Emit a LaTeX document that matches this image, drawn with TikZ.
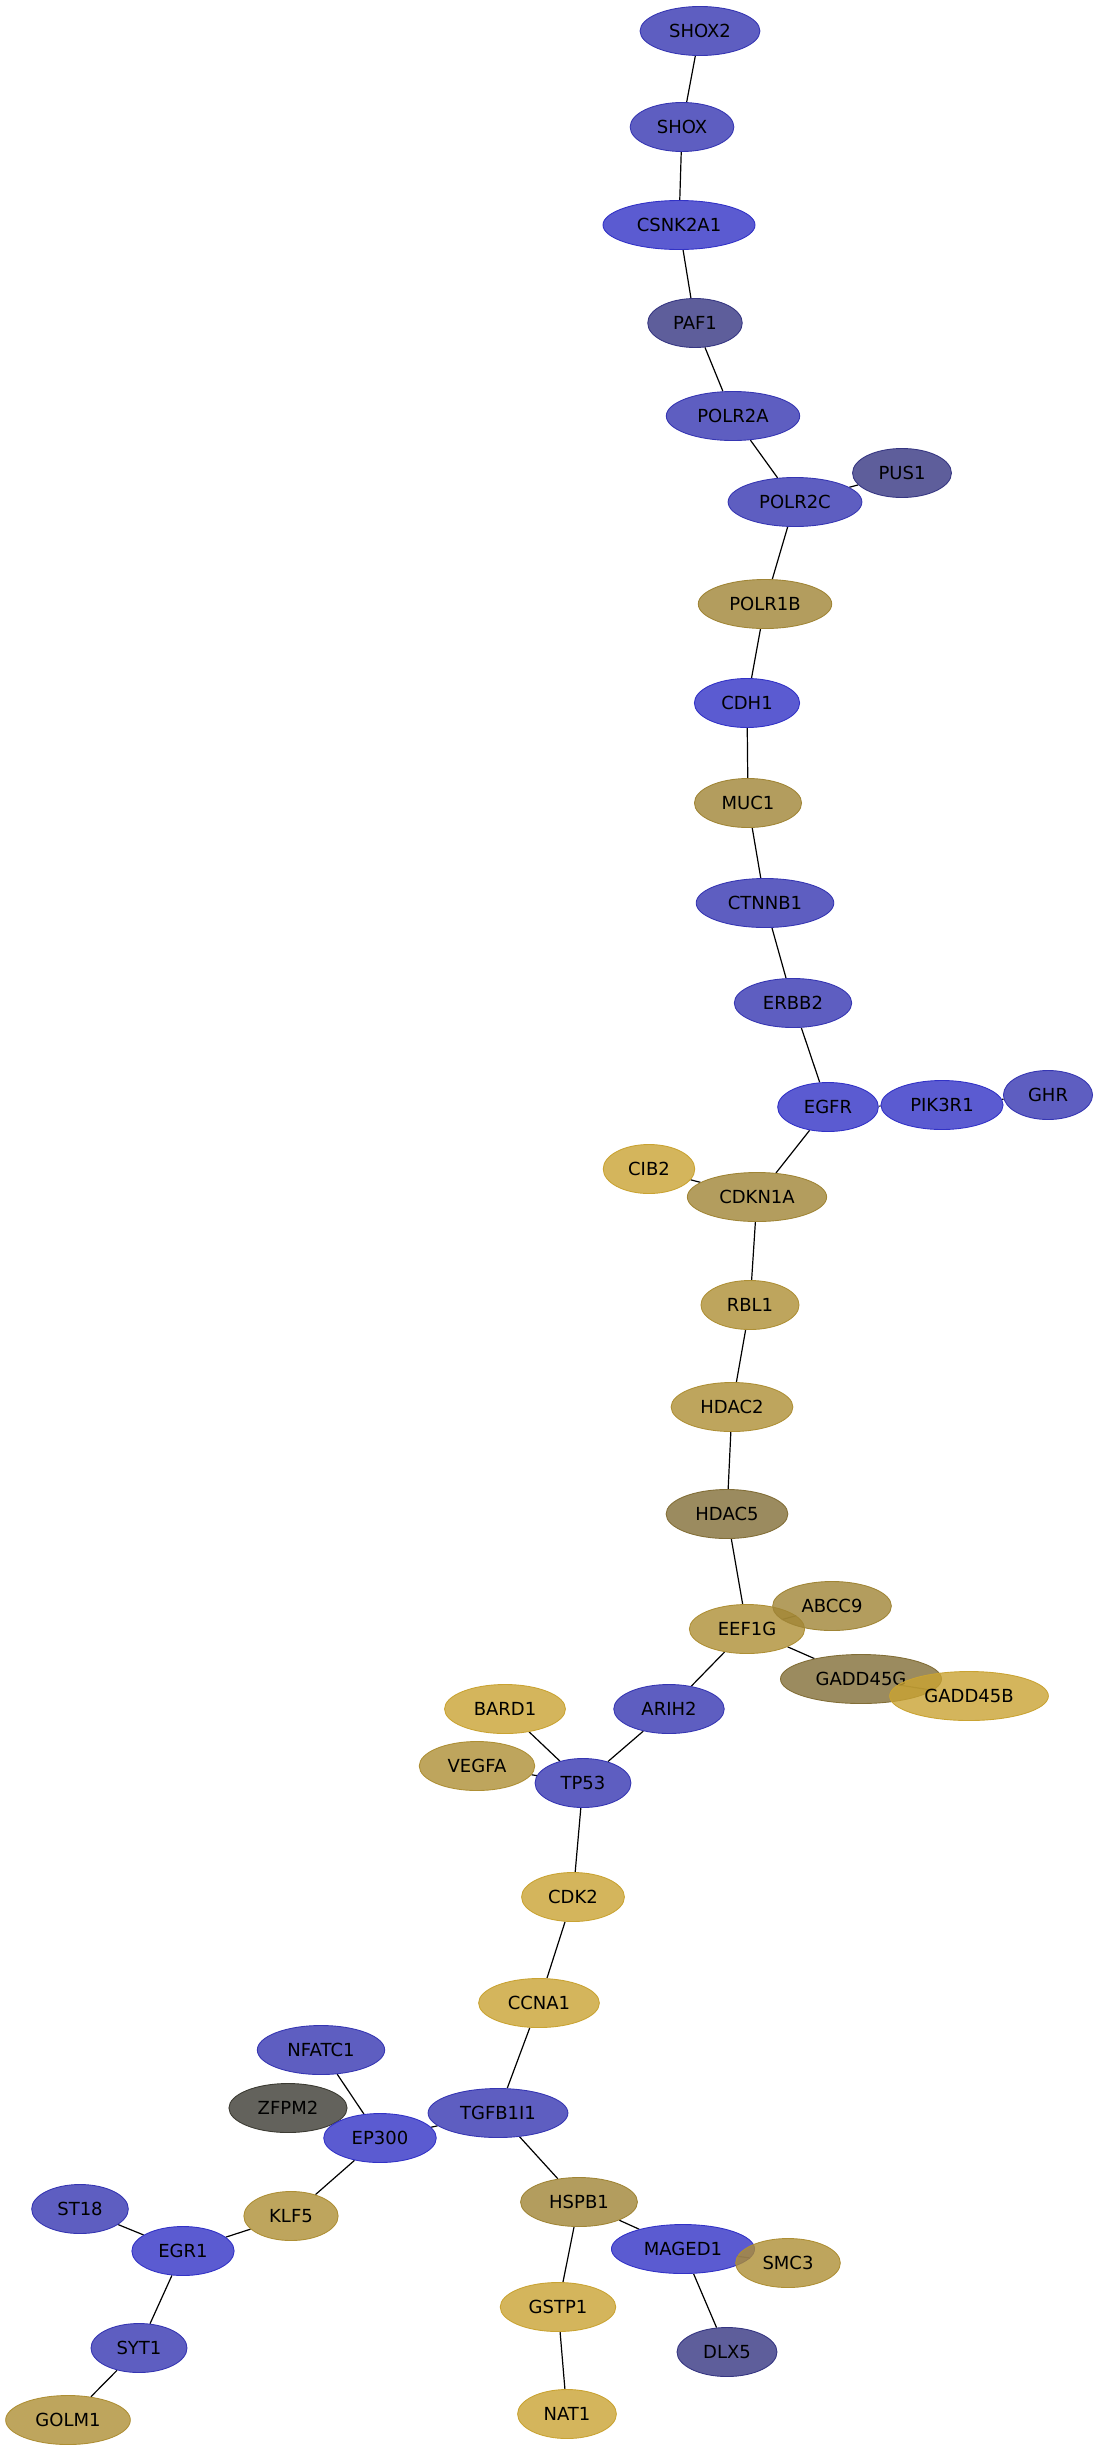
\documentclass[tikz,border=0pt]{standalone}
\usepackage{fontspec}
\setmainfont{DejaVu Sans}
\usetikzlibrary{shapes.geometric,backgrounds}

\definecolor{blueA}{RGB}{50,50,198}
\definecolor{blueB}{RGB}{54,54,178}
\definecolor{slate}{RGB}{54,54,130}
\definecolor{greyish}{RGB}{60,59,51}
\definecolor{gold}{RGB}{201,163,51}
\definecolor{tanA}{RGB}{160,133,54}
\definecolor{tanB}{RGB}{174,143,53}
\definecolor{olive}{RGB}{130,110,55}

\begin{document}
\begin{tikzpicture}[x=1pt, y=-1pt, every node/.style={font=\fontsize{18}{20}\selectfont}, gene/.style={ellipse,draw,line width=0.9pt,fill opacity=0.8,text opacity=1,inner xsep=11.5pt,inner ysep=2pt,minimum height=49pt}, gb/.style={gene,fill=blueA,draw=blueA}, gm/.style={gene,fill=blueB,draw=blueB}, gs/.style={gene,fill=slate,draw=slate}, gk/.style={gene,fill=greyish,draw=greyish}, gy/.style={gene,fill=gold,draw=gold}, gt/.style={gene,fill=tanA,draw=tanA}, gl/.style={gene,fill=tanB,draw=tanB}, go/.style={gene,fill=olive,draw=olive}, edge/.style={line width=1.2pt,black}]
\useasboundingbox (0,0) rectangle (1099,2452);
\node[gm] (shox2) at (700,31) {SHOX2};
\node[gm] (shox) at (682,127) {SHOX};
\node[gb] (csnk2a1) at (679,225) {CSNK2A1};
\node[gs] (paf1) at (695,323) {PAF1};
\node[gm] (polr2a) at (733,416) {POLR2A};
\node[gs] (pus1) at (902,473) {PUS1};
\node[gm] (polr2c) at (795,502) {POLR2C};
\node[gt] (polr1b) at (765,604) {POLR1B};
\node[gb] (cdh1) at (747,703) {CDH1};
\node[gt] (muc1) at (748,803) {MUC1};
\node[gm] (ctnnb1) at (765,903) {CTNNB1};
\node[gm] (erbb2) at (793,1003) {ERBB2};
\node[gb] (egfr) at (828,1107) {EGFR};
\node[gb] (pik3r1) at (942,1105) {PIK3R1};
\node[gm] (ghr) at (1048,1095) {GHR};
\node[gy] (cib2) at (649,1169) {CIB2};
\node[gt] (cdkn1a) at (757,1197) {CDKN1A};
\node[gl] (rbl1) at (750,1305) {RBL1};
\node[gl] (hdac2) at (732,1407) {HDAC2};
\node[go] (hdac5) at (727,1514) {HDAC5};
\node[gl] (eef1g) at (747,1629) {EEF1G};
\node[gt] (abcc9) at (832,1606) {ABCC9};
\node[go] (gadd45g) at (861,1679) {GADD45G};
\node[gy] (gadd45b) at (969,1696) {GADD45B};
\node[gm] (arih2) at (669,1709) {ARIH2};
\node[gy] (bard1) at (505,1709) {BARD1};
\node[gl] (vegfa) at (477,1766) {VEGFA};
\node[gm] (tp53) at (583,1783) {TP53};
\node[gy] (cdk2) at (573,1897) {CDK2};
\node[gy] (ccna1) at (539,2003) {CCNA1};
\node[gm] (nfatc1) at (321,2050) {NFATC1};
\node[gk] (zfpm2) at (288,2108) {ZFPM2};
\node[gm] (tgfb1i1) at (498,2113) {TGFB1I1};
\node[gb] (ep300) at (380,2138) {EP300};
\node[gt] (hspb1) at (579,2202) {HSPB1};
\node[gl] (klf5) at (291,2216) {KLF5};
\node[gm] (st18) at (80,2209) {ST18};
\node[gb] (egr1) at (183,2251) {EGR1};
\node[gb] (maged1) at (683,2249) {MAGED1};
\node[gl] (smc3) at (788,2263) {SMC3};
\node[gy] (gstp1) at (558,2307) {GSTP1};
\node[gm] (syt1) at (139,2348) {SYT1};
\node[gs] (dlx5) at (727,2352) {DLX5};
\node[gy] (nat1) at (567,2414) {NAT1};
\node[gl] (golm1) at (68,2420) {GOLM1};
\begin{pgfonlayer}{background}
\draw[edge] (shox2)--(shox); \draw[edge] (shox)--(csnk2a1); \draw[edge] (csnk2a1)--(paf1); \draw[edge] (paf1)--(polr2a); \draw[edge] (polr2a)--(polr2c); \draw[edge] (polr2c)--(pus1);
\draw[edge] (polr2c)--(polr1b); \draw[edge] (polr1b)--(cdh1); \draw[edge] (cdh1)--(muc1); \draw[edge] (muc1)--(ctnnb1); \draw[edge] (ctnnb1)--(erbb2); \draw[edge] (erbb2)--(egfr);
\draw[edge] (egfr)--(pik3r1); \draw[edge] (pik3r1)--(ghr); \draw[edge] (egfr)--(cdkn1a); \draw[edge] (cib2)--(cdkn1a); \draw[edge] (cdkn1a)--(rbl1); \draw[edge] (rbl1)--(hdac2);
\draw[edge] (hdac2)--(hdac5); \draw[edge] (hdac5)--(eef1g); \draw[edge] (eef1g)--(abcc9); \draw[edge] (eef1g)--(gadd45g); \draw[edge] (gadd45g)--(gadd45b); \draw[edge] (eef1g)--(arih2);
\draw[edge] (arih2)--(tp53); \draw[edge] (bard1)--(tp53); \draw[edge] (vegfa)--(tp53); \draw[edge] (tp53)--(cdk2); \draw[edge] (cdk2)--(ccna1); \draw[edge] (ccna1)--(tgfb1i1);
\draw[edge] (tgfb1i1)--(ep300); \draw[edge] (nfatc1)--(ep300); \draw[edge] (zfpm2)--(ep300); \draw[edge] (ep300)--(klf5); \draw[edge] (klf5)--(egr1); \draw[edge] (st18)--(egr1);
\draw[edge] (egr1)--(syt1); \draw[edge] (syt1)--(golm1); \draw[edge] (tgfb1i1)--(hspb1); \draw[edge] (hspb1)--(maged1); \draw[edge] (hspb1)--(gstp1); \draw[edge] (gstp1)--(nat1);
\draw[edge] (maged1)--(smc3); \draw[edge] (maged1)--(dlx5);
\end{pgfonlayer}
\end{tikzpicture}
\end{document}
